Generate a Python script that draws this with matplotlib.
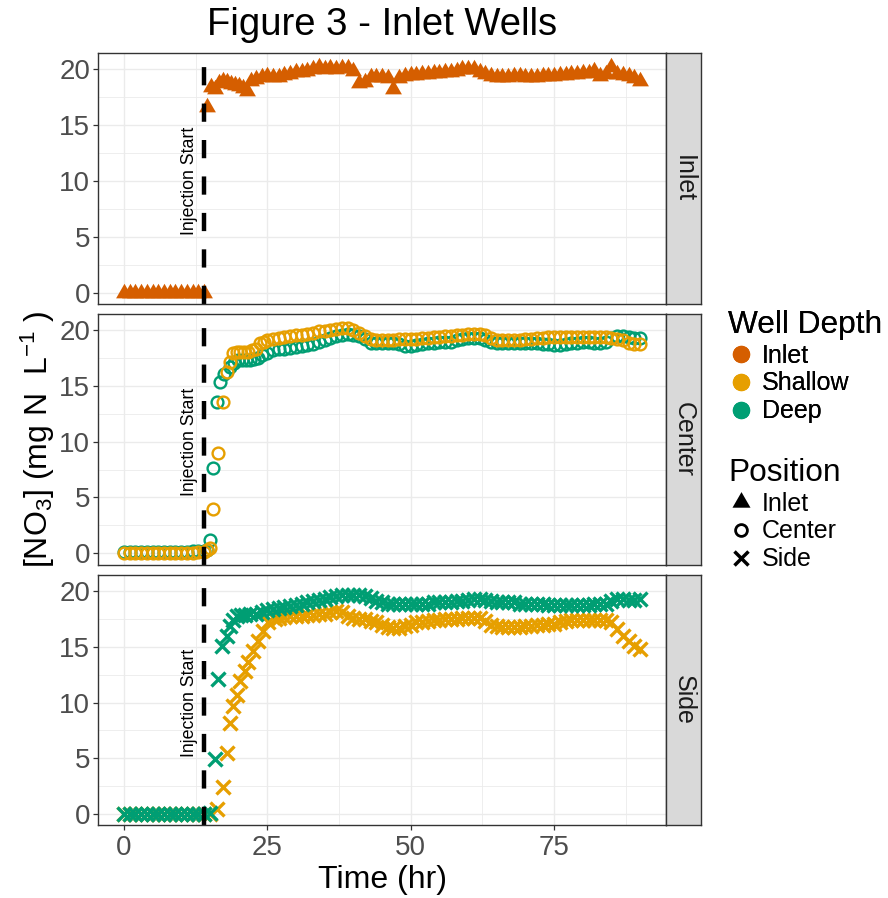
import matplotlib
matplotlib.use("Agg")
import matplotlib.pyplot as plt
from matplotlib.lines import Line2D

plt.rcParams['font.family'] = ['Liberation Sans', 'DejaVu Sans']
plt.rcParams['mathtext.fontset'] = 'custom'
plt.rcParams['mathtext.rm'] = 'Liberation Sans'
plt.rcParams['mathtext.it'] = 'Liberation Sans:italic'

# ---- data (hours, mg N/L) ----
hours_pre = [0, 1, 2, 3, 4, 5, 6, 7, 8, 9, 10, 11, 12, 13, 14]
hours_late = list(range(25, 91))

inlet_t = hours_pre + [14.5, 15.2, 15.9, 16.6, 17.3, 18.0, 18.7, 19.4, 20.1, 20.8,
                       21.5, 22.2, 23.0, 24.0] + hours_late
inlet_y = [0, 0, 0, 0, 0, 0, 0, 0, 0, 0, 0, 0, 0, 0, 0,
           16.6, 18.4, 18.2, 18.8, 19.0, 18.9, 18.7, 18.6, 18.5, 18.3,
           18.1, 19.0, 19.1, 19.3,
           19.4, 19.3, 19.3, 19.5, 19.6, 19.8, 19.8, 19.9, 20.0, 20.2,
           20.0, 20.1, 20.0, 20.1, 20.1, 19.9, 18.8, 18.9, 19.3, 19.3,
           19.3, 19.2, 18.2, 19.2, 19.4, 19.5, 19.5, 19.6, 19.6, 19.7,
           19.7, 19.8, 19.8, 19.9, 20.0, 20.0, 20.0, 19.8, 19.6, 19.4,
           19.3, 19.3, 19.3, 19.4, 19.4, 19.3, 19.3, 19.3, 19.4, 19.4,
           19.4, 19.5, 19.5, 19.6, 19.6, 19.7, 19.7, 19.9, 19.4, 19.6,
           20.2, 19.6, 19.5, 19.4, 19.2, 19.0]

center_sh_t = hours_pre + [14.5, 15.0, 15.6, 16.5, 17.3, 17.9, 18.5, 19.1, 19.7, 20.3,
                           21.0, 21.7, 22.4, 23.1, 23.8, 24.5] + hours_late
center_sh_y = [0.05, 0.05, 0.05, 0.05, 0.05, 0.05, 0.05, 0.05, 0.05, 0.05, 0.05, 0.05, 0.05, 0.1, 0.1,
               0.3, 0.45, 4.0, 9.0, 13.6, 16.3, 17.2, 18.0, 18.1, 18.1,
               18.1, 18.1, 18.2, 18.3, 18.9, 19.0,
               19.1, 19.2, 19.3, 19.4, 19.5, 19.6, 19.6, 19.7, 19.8, 19.9,
               19.9, 20.0, 20.1, 20.2, 20.2, 20.0, 19.8, 19.5, 19.2, 19.1,
               19.1, 19.1, 19.1, 19.2, 19.2, 19.2, 19.2, 19.3, 19.3, 19.4,
               19.4, 19.5, 19.5, 19.6, 19.6, 19.7, 19.7, 19.7, 19.6, 19.3,
               19.1, 19.1, 19.1, 19.1, 19.1, 19.2, 19.2, 19.3, 19.3, 19.4,
               19.4, 19.4, 19.4, 19.4, 19.4, 19.4, 19.4, 19.4, 19.4, 19.4,
               19.3, 19.2, 19.1, 18.9, 18.8, 18.8]

center_dp_t = hours_pre + [14.5, 15.0, 15.6, 16.2, 16.7, 17.5, 18.5, 19.2, 19.9, 20.6,
                           21.3, 22.0, 22.7, 23.4, 24.1] + hours_late
center_dp_y = [0.1, 0.1, 0.1, 0.1, 0.1, 0.1, 0.1, 0.1, 0.1, 0.1, 0.1, 0.1, 0.15, 0.15, 0.2,
               0.3, 1.2, 7.6, 13.6, 15.4, 16.1, 16.7, 17.1, 17.3, 17.3,
               17.3, 17.3, 17.4, 17.5, 17.8,
               18.0, 18.2, 18.3, 18.3, 18.4, 18.5, 18.6, 18.7, 18.8, 19.0,
               19.1, 19.3, 19.5, 19.6, 19.7, 19.6, 19.5, 19.2, 18.9, 18.9,
               18.9, 18.9, 18.9, 18.8, 18.6, 18.6, 18.7, 18.8, 18.9, 18.9,
               19.0, 19.0, 19.0, 19.1, 19.2, 19.3, 19.3, 19.3, 19.1, 19.0,
               18.9, 18.9, 18.9, 18.9, 18.9, 18.9, 18.9, 18.9, 18.8, 18.8,
               18.7, 18.7, 18.8, 18.9, 18.9, 19.0, 19.0, 18.9, 18.9, 19.0,
               19.3, 19.5, 19.5, 19.4, 19.3, 19.3]

side_sh_t = hours_pre + [15.0, 16.2, 17.3, 17.9, 18.5, 19.1, 19.7, 20.25, 21.1, 21.7,
                         22.6, 23.4, 24.3, 25.2, 26.4] + hours_late[2:]
side_sh_y = [0, 0, 0, 0, 0, 0, 0, 0, 0, 0, 0, 0, 0, 0, 0,
             0.0, 0.45, 2.4, 5.5, 8.2, 9.7, 10.7, 11.9, 12.8, 13.6,
             14.6, 15.5, 16.4, 17.2, 17.5,
             17.6, 17.7, 17.8, 17.8, 17.8, 17.9, 17.9, 18.0,
             18.0, 18.1, 18.2, 18.1, 17.8, 17.6, 17.5, 17.5, 17.3, 17.2,
             17.0, 16.8, 16.7, 16.7, 16.9, 17.0, 17.2, 17.2, 17.3, 17.4,
             17.4, 17.5, 17.5, 17.5, 17.6, 17.6, 17.6, 17.6, 17.3, 17.0,
             16.9, 16.8, 16.8, 16.8, 16.8, 16.9, 16.9, 17.0, 17.0, 17.1,
             17.1, 17.2, 17.3, 17.4, 17.4, 17.4, 17.4, 17.4, 17.4, 17.4,
             17.2, 16.6, 16.0, 15.5, 15.1, 14.8]

side_dp_t = hours_pre + [15.0, 15.9, 16.5, 17.05, 17.9, 18.5, 19.1, 19.8, 20.5, 21.2,
                         22.0, 23.0, 24.0] + hours_late
side_dp_y = [0, 0, 0, 0, 0, 0, 0, 0, 0, 0, 0, 0, 0, 0, 0,
             0.1, 4.9, 12.1, 15.1, 16.0, 16.9, 17.4, 17.8, 17.9, 17.9,
             18.0, 18.0, 18.1,
             18.3, 18.4, 18.5, 18.6, 18.7, 18.8, 18.9, 19.0, 19.1, 19.2,
             19.3, 19.5, 19.6, 19.7, 19.7, 19.7, 19.7, 19.6, 19.4, 19.1,
             19.0, 18.9, 18.9, 18.9, 18.9, 18.9, 18.9, 18.9, 18.9, 19.0,
             19.0, 19.0, 19.0, 19.1, 19.1, 19.2, 19.3, 19.3, 19.2, 19.1,
             19.0, 19.0, 19.0, 19.0, 18.9, 18.9, 18.9, 18.9, 18.9, 18.8,
             18.8, 18.8, 18.8, 18.8, 18.8, 18.8, 18.8, 18.9, 18.9, 18.9,
             19.1, 19.3, 19.3, 19.2, 19.2, 19.3]

injection_time = 14
depth_names = ["Inlet", "Shallow", "Deep"]
depth_colors = {"Inlet": "#D55E00", "Shallow": "#E69F00", "Deep": "#009E73"}
position_names = ["Inlet", "Center", "Side"]

tri = [(-1, -0.577), (1, -0.577), (0, 1.155)]  # equilateral triangle like ggplot shape 17
marker_style = {
    "Inlet": dict(marker=tri, markersize=14, markeredgewidth=0),
    "Center": dict(marker="o", markersize=8.5, markerfacecolor="none", markeredgewidth=1.7),
    "Side": dict(marker="x", markersize=9.5, markeredgewidth=2.4),
}

panel_series = {
    "Inlet": [("Inlet", inlet_t, inlet_y)],
    "Center": [("Deep", center_dp_t, center_dp_y), ("Shallow", center_sh_t, center_sh_y)],
    "Side": [("Shallow", side_sh_t, side_sh_y), ("Deep", side_dp_t, side_dp_y)],
}

W, H = 888, 898
fig = plt.figure(figsize=(W / 100, H / 100), dpi=100)


def box(l, t, r, b):
    return [l / W, 1 - b / H, (r - l) / W, (b - t) / H]


panel_px = [(53, 304), (314, 564.5), (575, 825)]
for i, pos in enumerate(position_names):
    top, bot = panel_px[i]
    ax = fig.add_axes(box(98, top, 666, bot))
    ax.set_xlim(-4.5, 94.5)
    ax.set_ylim(-1.02, 21.47)
    ax.set_xticks([0, 25, 50, 75])
    ax.set_xticks([12.5, 37.5, 62.5, 87.5], minor=True)
    ax.set_yticks([0, 5, 10, 15, 20])
    ax.set_yticks([2.5, 7.5, 12.5, 17.5], minor=True)
    ax.grid(which="major", color="#EBEBEB", lw=1.0)
    ax.grid(which="minor", color="#EBEBEB", lw=0.6)
    ax.set_axisbelow(True)
    for sp in ax.spines.values():
        sp.set_color("#333333")
        sp.set_linewidth(1.0)
    ax.tick_params(which="minor", length=0)
    ax.tick_params(which="major", length=3.5, width=0.9, color="#333333",
                   labelsize=20, labelcolor="#4D4D4D", pad=2)
    ax.tick_params(axis="x", which="major", pad=4)
    if i < 2:
        ax.tick_params(axis="x", which="major", length=0, labelbottom=False)

    for depth, t, y in panel_series[pos]:
        ax.plot(t, y, ls="none", color=depth_colors[depth], **marker_style[pos])

    ax.axvline(injection_time, color="black", lw=3.2, ls=(0, (4.1, 4.1)))
    ax.text(11.4, 10, "Injection Start", rotation=90, ha="center", va="center",
            fontsize=12.8, color="black")

    sax = fig.add_axes(box(666, top, 701, bot))
    sax.set_facecolor("#D9D9D9")
    sax.set_xticks([])
    sax.set_yticks([])
    for sp in sax.spines.values():
        sp.set_color("#333333")
        sp.set_linewidth(1.0)
    sax.text(0.5, 0.5, pos, rotation=-90, ha="center", va="center",
             fontsize=18, color="#1A1A1A", transform=sax.transAxes)

fig.text(382 / W, 1 - 25 / H, "Figure 3 - Inlet Wells", ha="center", va="center", fontsize=27.5)
fig.text(382 / W, 1 - 880 / H, "Time (hr)", ha="center", va="center", fontsize=23)
fig.text(38 / W, 1 - 439 / H, r"[NO$_3$] (mg N  L$^{-1}$ )", rotation=90,
         ha="center", va="center", fontsize=23)

depth_handles = [Line2D([], [], ls="none", marker="o", markersize=11.5, color=depth_colors[d])
                 for d in depth_names]
leg1 = fig.legend(depth_handles, depth_names, title="Well Depth", loc="upper left",
                  bbox_to_anchor=(728 / W, 1 - 310 / H), frameon=False, fontsize=18,
                  title_fontsize=22.8, alignment="left", handlelength=1.0,
                  handletextpad=0.35, labelspacing=0.15, borderpad=0, borderaxespad=0)
fig.add_artist(leg1)

pos_handles = [
    Line2D([], [], ls="none", marker=tri, markersize=15, color="black", markeredgewidth=0),
    Line2D([], [], ls="none", marker="o", markersize=8.5, markerfacecolor="none",
           markeredgecolor="black", markeredgewidth=2),
    Line2D([], [], ls="none", marker="x", markersize=9.5, color="black", markeredgewidth=2.5),
]
fig.legend(pos_handles, position_names, title="Position", loc="upper left",
           bbox_to_anchor=(728 / W, 1 - 458 / H), frameon=False, fontsize=18,
           title_fontsize=22.8, alignment="left", handlelength=1.0,
           handletextpad=0.35, labelspacing=0.15, borderpad=0, borderaxespad=0)

fig.savefig("out.png", dpi=100)
